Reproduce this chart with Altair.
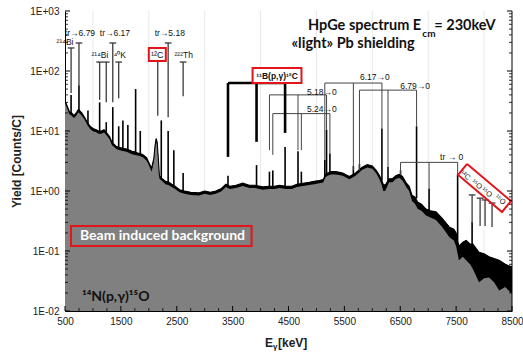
import altair as alt
import pandas as pd

# ---------------- spectrum continuum ----------------
energy = [500, 540, 580, 620, 660, 700, 740, 800, 850, 900,
          950, 1000, 1060, 1100, 1150, 1200, 1260, 1300, 1340, 1380,
          1420, 1480, 1520, 1560, 1600, 1650, 1700, 1750, 1800, 1850,
          1900, 1960, 2000, 2050, 2090, 2110, 2130, 2150, 2170, 2190,
          2240, 2300, 2360, 2410, 2470, 2550, 2640, 2750, 2900, 3000,
          3100, 3200, 3300, 3380, 3450, 3560, 3680, 3800, 3900, 4040,
          4150, 4250, 4340, 4450, 4560, 4650, 4760, 4870, 4960, 5050,
          5120, 5140, 5160, 5200, 5260, 5350, 5470, 5590, 5700, 5820,
          5910, 6000, 6070, 6130, 6170, 6195, 6230, 6300, 6360, 6420,
          6480, 6540, 6610, 6660, 6710, 6760, 6815, 6880, 6960, 7040,
          7140, 7250, 7380, 7460, 7500, 7550, 7620, 7680, 7750, 7800,
          7910, 8000, 8090, 8180, 8270, 8380, 8480, 8500]
yield_upper = [32, 26, 21, 20, 18, 20, 23, 20, 17, 14,
               12, 11, 10.5, 10, 10, 10.5, 9, 8, 6.5, 6,
               5.5, 5.3, 5.2, 5.1, 5.0, 4.8, 4.6, 4.5, 4.3, 4.2,
               4.0, 3.6, 3.0, 2.4, 3.5, 5.5, 7.5, 6.5, 3.5, 1.8,
               1.6, 1.45, 1.4, 1.3, 1.2, 1.05, 1.0, 0.95, 0.93, 1.0,
               0.95, 1.0, 1.1, 1.3, 1.2, 1.25, 1.35, 1.25, 1.25, 1.17,
               1.2, 1.2, 1.25, 1.2, 1.2, 1.3, 1.35, 1.4, 1.45, 1.5,
               1.55, 1.7, 1.9, 2.0, 2.1, 2.1, 2.0, 1.75, 2.0, 2.5,
               2.75, 2.6, 2.2, 1.8, 1.5, 1.3, 1.25, 1.6, 1.6, 1.8,
               1.9, 1.75, 1.35, 1.2, 0.85, 0.8, 0.65, 0.6, 0.5, 0.47,
               0.45, 0.35, 0.25, 0.23, 0.2, 0.12, 0.14, 0.15, 0.13, 0.13,
               0.095, 0.09, 0.08, 0.075, 0.07, 0.06, 0.055, 0.055]
yield_lower = [29, 23.5, 19, 18, 16.5, 18, 20.5, 18, 15.5, 12.6,
               10.8, 9.9, 9.5, 9.0, 9.0, 9.4, 8.1, 7.2, 5.8, 5.4,
               5.0, 4.8, 4.7, 4.6, 4.5, 4.3, 4.1, 4.0, 3.9, 3.8,
               3.6, 3.2, 2.7, 2.1, 3.1, 5.0, 6.7, 5.8, 3.1, 1.6,
               1.45, 1.3, 1.25, 1.17, 1.08, 0.95, 0.9, 0.86, 0.84, 0.9,
               0.86, 0.9, 0.99, 1.17, 1.08, 1.12, 1.21, 1.12, 1.12, 1.05,
               1.08, 1.08, 1.12, 1.08, 1.08, 1.17, 1.21, 1.26, 1.3, 1.35,
               1.39, 1.53, 1.7, 1.8, 1.89, 1.89, 1.8, 1.57, 1.8, 2.25,
               2.47, 2.34, 1.98, 1.55, 1.25, 1.0, 1.0, 1.4, 1.4, 1.58,
               1.66, 1.5, 1.15, 1.0, 0.68, 0.62, 0.5, 0.47, 0.39, 0.36,
               0.33, 0.25, 0.17, 0.15, 0.12, 0.07, 0.08, 0.07, 0.06, 0.05,
               0.03, 0.035, 0.036, 0.03, 0.022, 0.025, 0.02, 0.02]

# ---------------- narrow gamma peaks on the spectrum ----------------
peak_E = [609, 750, 911, 1120, 1238, 1355, 1461, 1536, 1625, 1764, 1847, 2223, 2346, 2448, 2614,
          3417, 3928, 4159, 4219, 4439, 4670, 4730, 5150, 5181, 5241, 5661, 5770, 6172, 6281,
          6505, 6792, 7016, 7527, 7786]
peak_top = [40, 58, 22, 30, 14, 25, 12, 15, 12.6, 50, 10, 15, 10, 4.8, 2.0,
            1.8, 2.7, 2.1, 2.2, 5.4, 4.6, 2.1, 3.3, 10.5, 4.2, 2.6, 2.8, 11, 2.5,
            2.2, 12, 1.1, 1.9, 0.3]
peak_base = [20, 22, 13, 10, 9.5, 6.2, 5.4, 5.1, 4.9, 4.4, 4.2, 1.6, 1.4, 1.2, 1.0,
             1.2, 1.2, 1.2, 1.2, 1.2, 1.3, 1.3, 1.7, 1.9, 2.0, 1.8, 2.2, 1.5, 1.4,
             1.8, 0.75, 0.47, 0.15, 0.13]

# ---------------- axes ----------------
x_tick_labels = [500, 1500, 2500, 3500, 4500, 5500, 6500, 7500, 8500]
grid_energies = [1000, 2000, 3000, 4000, 5000, 6000, 7000, 8000]
y_decades = [0.01, 0.1, 1, 10, 100, 1000]

# ---------------- single-line markers ----------------
marker_E = [609, 750, 1120, 1238, 1355, 1461, 2160, 2346, 2614, 7786, 7929, 8018, 8143]
marker_top = [242, 293, 141, 141, 293, 141, 147, 293, 141, 0.86, 0.76, 0.71, 0.63]
marker_bottom = [43, 58, 33, 30, 30, 35, 18, 17, 38, 0.29, 0.26, 0.26, 0.25]
marker_cap = [1, 1, 1, 1, 1, 1, 0, 1, 1, 1, 1, 1, 1]

# ---------------- escape-peak brackets ----------------
bracket_name = ["11B", "5.18", "5.24", "6.17", "6.79", "tr0"]
bracket_level = [63, 40, 19.5, 63, 48, 3.0]
bracket_legs = [[3417, 3928, 4439], [4159, 4670, 5181], [4219, 4730, 5241],
                [5150, 5661, 6172], [5770, 6281, 6792], [6505, 7016, 7527]]
bracket_leg_bottom = [[3.7, 6.6, 9.3], [4.8, 4.8, 10.5], [4.0, 4.8, 4.2],
                      [3.3, 2.2, 11], [2.2, 2.2, 12], [1.85, 1.1, 1.9]]

# ---------------- labels ----------------
small_text = ["tr→6.79", "tr→6.17", "tr→5.18", "²¹⁴Bi", "²¹⁴Bi", "⁴⁰K", "²²²Th",
              "5.18→0", "5.24→0", "6.17→0", "6.79→0", "tr  → 0"]
small_E = [768, 1393, 2375, 500, 1125, 1482, 2625, 5098, 5098, 6045, 6767, 7420]
small_Y = [430, 430, 430, 304, 185, 185, 185, 45, 23, 79, 56, 3.7]

rot_text = ["¹²C", "¹⁵O", "¹⁵O", "¹⁵O"]
rot_E = [7661, 7866, 8045, 8286]
rot_Y = [1.81, 1.28, 0.94, 0.71]

rot_box_E = [7696, 8482, 8321, 7536, 7696]
rot_box_Y = [2.82, 0.68, 0.447, 1.85, 2.82]

box_E1 = [2000, 3857, 607]
box_E2 = [2304, 4732, 3839]
box_Y1 = [147, 63, 0.121]
box_Y2 = [242, 112, 0.261]
box_fill = ["white", "white", "transparent"]

W, H = 447, 300
FONT = "Liberation Sans"
BOLD = "Lato"
RED = "#e3151b"

xs = alt.Scale(domain=[500, 8500], nice=False, zero=False)
ys = alt.Scale(type="log", domain=[0.01, 1000], nice=False)

spec = pd.DataFrame({"E": energy, "up": yield_upper, "lo": yield_lower})
peaks = pd.DataFrame({"E": peak_E, "top": peak_top, "base": peak_base})

x_axis = alt.Axis(values=x_tick_labels, ticks=False, grid=False, domainColor="black",
                  labelFont=FONT, labelFontSize=10, labelColor="#222", labelPadding=5,
                  labelFlush=False, labelOverlap=False, format="d", title=None)
y_axis = alt.Axis(values=y_decades, ticks=False, grid=False, domainColor="black",
                  labelExpr="datum.value >= 1 ? '1E+0' + round(log(datum.value)/LN10) : '1E-0' + round(-log(datum.value)/LN10)",
                  labelFont=FONT, labelFontSize=10, labelColor="#222", labelPadding=6,
                  labelFlush=False, labelOverlap=False,
                  title="Yield [Counts/C]", titleFont=FONT, titleFontSize=12,
                  titleFontWeight="bold", titleColor="#222", titlePadding=6)

grid = alt.Chart(pd.DataFrame({"E": grid_energies})).mark_rule(
    color="#e8e8e8", strokeWidth=1).encode(x=alt.X("E:Q", scale=xs, axis=x_axis))

area = alt.Chart(spec).mark_area(color="#808080", clip=True).encode(
    x=alt.X("E:Q", scale=xs),
    y=alt.Y("up:Q", scale=ys, axis=y_axis),
    y2=alt.datum(0.01))
band = alt.Chart(spec).mark_area(color="black", clip=True).encode(
    x=alt.X("E:Q", scale=xs), y=alt.Y("up:Q", scale=ys), y2="lo:Q")
line = alt.Chart(spec).mark_line(color="black", strokeWidth=1.1, clip=True).encode(
    x=alt.X("E:Q", scale=xs), y=alt.Y("up:Q", scale=ys))
peak_lines = alt.Chart(peaks).mark_rule(color="black", strokeWidth=1.6, clip=True).encode(
    x=alt.X("E:Q", scale=xs), y=alt.Y("top:Q", scale=ys), y2="base:Q")

mk = pd.DataFrame({"E": marker_E, "top": marker_top, "bot": marker_bottom, "cap": marker_cap})
mk_lines = alt.Chart(mk).mark_rule(color="#3a3a3a", strokeWidth=1.3).encode(
    x=alt.X("E:Q", scale=xs), y=alt.Y("top:Q", scale=ys), y2="bot:Q")
mk_caps = alt.Chart(mk).transform_filter("datum.cap == 1").transform_calculate(
    a="datum.E - 60", b="datum.E + 60").mark_rule(color="#3a3a3a", strokeWidth=1.3).encode(
    x=alt.X("a:Q", scale=xs), x2="b:Q", y=alt.Y("top:Q", scale=ys))

legs_rows, bars_rows = [], []
for n, lev, legs, bots in zip(bracket_name, bracket_level, bracket_legs, bracket_leg_bottom):
    for e, b in zip(legs, bots):
        legs_rows.append({"name": n, "E": e, "top": lev, "bot": b})
    bars_rows.append({"name": n, "E1": legs[0], "E2": legs[-1], "lev": lev})
legs_df = pd.DataFrame(legs_rows)
bars_df = pd.DataFrame(bars_rows)

thin = alt.datum.name != "11B"
legs_thin = alt.Chart(legs_df).transform_filter(thin).mark_rule(color="#444", strokeWidth=1).encode(
    x=alt.X("E:Q", scale=xs), y=alt.Y("top:Q", scale=ys), y2="bot:Q")
bars_thin = alt.Chart(bars_df).transform_filter(thin).mark_rule(color="#444", strokeWidth=1).encode(
    x=alt.X("E1:Q", scale=xs), x2="E2:Q", y=alt.Y("lev:Q", scale=ys))
legs_thick = alt.Chart(legs_df).transform_filter(alt.datum.name == "11B").mark_rule(
    color="black", strokeWidth=2.6).encode(
    x=alt.X("E:Q", scale=xs), y=alt.Y("top:Q", scale=ys), y2="bot:Q")
bars_thick = alt.Chart(bars_df).transform_filter(alt.datum.name == "11B").mark_rule(
    color="black", strokeWidth=2.6).encode(
    x=alt.X("E1:Q", scale=xs), x2="E2:Q", y=alt.Y("lev:Q", scale=ys))

boxes = alt.Chart(pd.DataFrame({"E1": box_E1, "E2": box_E2, "Y1": box_Y1, "Y2": box_Y2,
                                "f": box_fill})).mark_rect(stroke=RED, strokeWidth=2).encode(
    x=alt.X("E1:Q", scale=xs), x2="E2:Q", y=alt.Y("Y1:Q", scale=ys), y2="Y2:Q",
    fill=alt.Fill("f:N", scale=None))

rot_box = alt.Chart(pd.DataFrame({"E": rot_box_E, "Y": rot_box_Y, "i": list(range(len(rot_box_E)))})
                    ).mark_line(color=RED, strokeWidth=2).encode(
    x=alt.X("E:Q", scale=xs), y=alt.Y("Y:Q", scale=ys), order="i:Q")

small = alt.Chart(pd.DataFrame({"E": small_E, "Y": small_Y, "t": small_text})).mark_text(
    font=FONT, fontSize=8.5, color="#111").encode(
    x=alt.X("E:Q", scale=xs), y=alt.Y("Y:Q", scale=ys), text="t:N")

rot = alt.Chart(pd.DataFrame({"E": rot_E, "Y": rot_Y, "t": rot_text})).mark_text(
    font=FONT, fontSize=7.5, color="#222", angle=40).encode(
    x=alt.X("E:Q", scale=xs), y=alt.Y("Y:Q", scale=ys), text="t:N")

c12 = alt.Chart(pd.DataFrame({"E": [2152], "Y": [188], "t": ["¹²C"]})).mark_text(
    font=FONT, fontSize=9, color="#111").encode(
    x=alt.X("E:Q", scale=xs), y=alt.Y("Y:Q", scale=ys), text="t:N")
b11 = alt.Chart(pd.DataFrame({"E": [4295], "Y": [84], "t": ["¹¹B(p,γ)¹²C"]})).mark_text(
    font=FONT, fontSize=8.5, fontWeight="bold", color="#111").encode(
    x=alt.X("E:Q", scale=xs), y=alt.Y("Y:Q", scale=ys), text="t:N")

title1a = alt.Chart(pd.DataFrame({"E": [6875], "Y": [562], "t": ["HpGe spectrum E"]})).mark_text(
    font=BOLD, fontSize=14.5, fontWeight="bold", color="#111", align="right").encode(
    x=alt.X("E:Q", scale=xs), y=alt.Y("Y:Q", scale=ys), text="t:N")
title1b = alt.Chart(pd.DataFrame({"E": [6895], "Y": [410], "t": ["cm"]})).mark_text(
    font=BOLD, fontSize=10, fontWeight="bold", color="#111", align="left").encode(
    x=alt.X("E:Q", scale=xs), y=alt.Y("Y:Q", scale=ys), text="t:N")
title1c = alt.Chart(pd.DataFrame({"E": [7110], "Y": [562], "t": ["= 230keV"]})).mark_text(
    font=BOLD, fontSize=14.5, fontWeight="bold", color="#111", align="left").encode(
    x=alt.X("E:Q", scale=xs), y=alt.Y("Y:Q", scale=ys), text="t:N")
title2 = alt.Chart(pd.DataFrame({"E": [4554], "Y": [282], "t": ["«light» Pb shielding"]})).mark_text(
    font=BOLD, fontSize=14.5, fontWeight="bold", color="#111", align="left").encode(
    x=alt.X("E:Q", scale=xs), y=alt.Y("Y:Q", scale=ys), text="t:N")
beam = alt.Chart(pd.DataFrame({"E": [768], "Y": [0.178], "t": ["Beam induced background"]})).mark_text(
    font=BOLD, fontSize=14, fontWeight="bold", color="white", align="left").encode(
    x=alt.X("E:Q", scale=xs), y=alt.Y("Y:Q", scale=ys), text="t:N")
react = alt.Chart(pd.DataFrame({"E": [804], "Y": [0.0171], "t": ["¹⁴N(p,γ)¹⁵O"]})).mark_text(
    font=BOLD, fontSize=14, fontWeight="bold", color="#111", align="left").encode(
    x=alt.X("E:Q", scale=xs), y=alt.Y("Y:Q", scale=ys), text="t:N")

# x-axis title with subscript gamma
xt_E = alt.Chart(pd.DataFrame({"t": ["E"]})).mark_text(
    font=FONT, fontSize=12, fontWeight="bold", color="#222", align="right").encode(
    x=alt.value(208), y=alt.value(332), text="t:N")
xt_g = alt.Chart(pd.DataFrame({"t": ["γ"]})).mark_text(
    font=FONT, fontSize=8, fontWeight="bold", color="#222", align="left").encode(
    x=alt.value(208), y=alt.value(336), text="t:N")
xt_k = alt.Chart(pd.DataFrame({"t": ["[keV]"]})).mark_text(
    font=FONT, fontSize=12, fontWeight="bold", color="#222", align="left").encode(
    x=alt.value(213), y=alt.value(332), text="t:N")

# inward ticks
y_minor = [m * 10.0 ** d for d in range(-2, 3) for m in range(2, 10)]
x_minor = [v for v in range(750, 8500, 250) if v not in x_tick_labels]
ymaj = pd.DataFrame({"v": y_decades})
ymin = pd.DataFrame({"v": y_minor})
tick_l_maj = alt.Chart(ymaj).mark_rule(color="black", strokeWidth=1).encode(
    y=alt.Y("v:Q", scale=ys), x=alt.value(0), x2=alt.value(5))
tick_l_min = alt.Chart(ymin).mark_rule(color="black", strokeWidth=0.8).encode(
    y=alt.Y("v:Q", scale=ys), x=alt.value(0), x2=alt.value(3))
tick_r_maj = alt.Chart(ymaj).mark_rule(color="black", strokeWidth=1).encode(
    y=alt.Y("v:Q", scale=ys), x=alt.value(W), x2=alt.value(W - 5))
tick_r_min = alt.Chart(ymin).mark_rule(color="black", strokeWidth=0.8).encode(
    y=alt.Y("v:Q", scale=ys), x=alt.value(W), x2=alt.value(W - 3))
tick_b_maj = alt.Chart(pd.DataFrame({"v": x_tick_labels})).mark_rule(color="black", strokeWidth=1).encode(
    x=alt.X("v:Q", scale=xs), y=alt.value(H), y2=alt.value(H - 5))
tick_b_min = alt.Chart(pd.DataFrame({"v": x_minor})).mark_rule(color="black", strokeWidth=0.8).encode(
    x=alt.X("v:Q", scale=xs), y=alt.value(H), y2=alt.value(H - 3))
right_border = alt.Chart(pd.DataFrame({"v": [0]})).mark_rule(color="black", strokeWidth=1).encode(
    x=alt.value(W), y=alt.value(0), y2=alt.value(H))

chart = alt.layer(
    grid, area, band, line, peak_lines, mk_lines, mk_caps, legs_thin, bars_thin, legs_thick, bars_thick,
    boxes, rot_box, small, rot, c12, b11, title1a, title1b, title1c, title2, beam, react,
    xt_E, xt_g, xt_k,
    tick_l_maj, tick_l_min, tick_r_maj, tick_r_min, tick_b_maj, tick_b_min, right_border
).properties(
    width=W, height=H, autosize="none",
    padding={"left": 65, "top": 11, "right": 11, "bottom": 43},
    background="white"
).configure_view(stroke=None)

chart.save("out.html", embed_options={"renderer": "svg", "actions": False})
